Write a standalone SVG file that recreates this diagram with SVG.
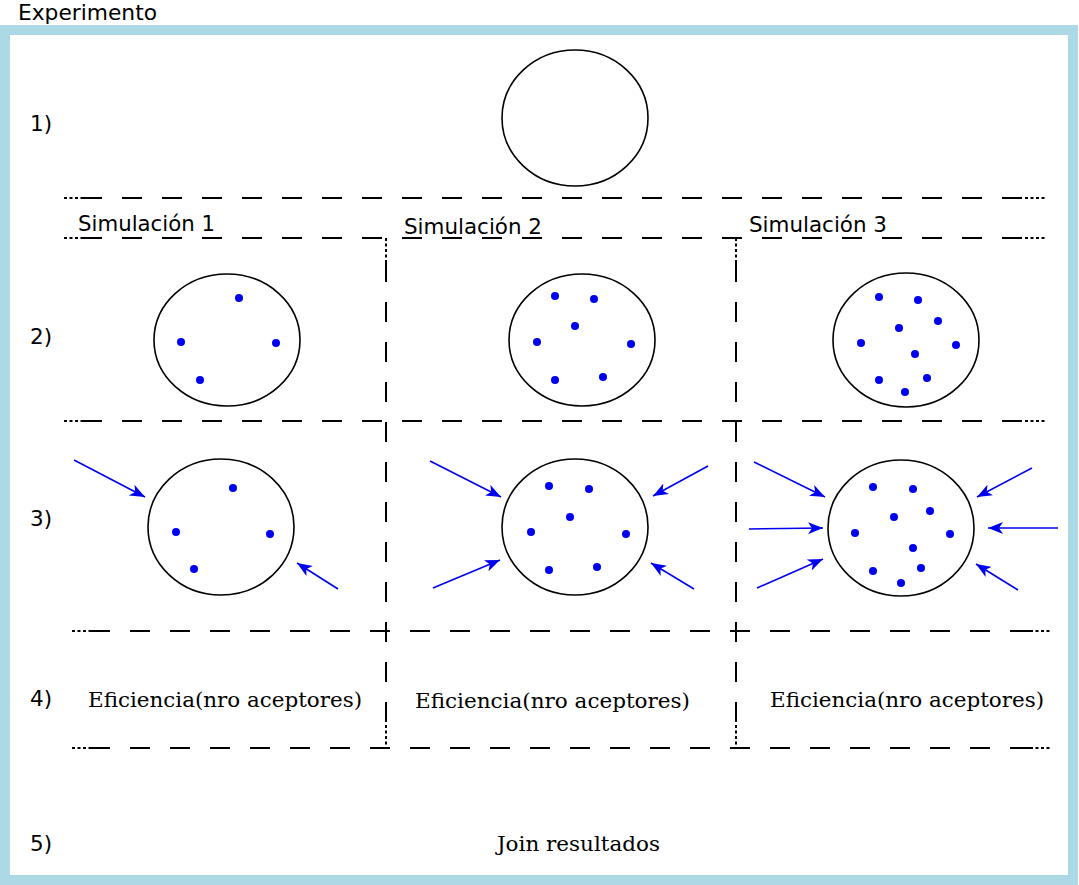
<svg xmlns="http://www.w3.org/2000/svg" width="1079" height="885" viewBox="0 0 1079 885">
<style>
.sans{font-family:"DejaVu Sans",sans-serif;font-size:21.5px;fill:#000}
.serif{font-family:"DejaVu Serif",serif;font-size:21px;fill:#000}
.c{fill:#fff;stroke:#000;stroke-width:1.6}
.d{fill:#0000f0}
.dash{stroke:#000;stroke-width:2;stroke-dasharray:20 20;fill:none}
.dot{stroke:#000;stroke-width:2;stroke-dasharray:3 2.5;fill:none}
.arr{stroke:#0000f0;stroke-width:1.6;fill:none;marker-end:url(#ah)}
</style>
<defs>
<marker id="ah" markerUnits="userSpaceOnUse" markerWidth="16" markerHeight="12" refX="15" refY="6" orient="auto">
<path d="M0,0 L15,6 L0,12 L4,6 Z" fill="#0000f0"/>
</marker>
</defs>
<rect width="1079" height="885" fill="#fff"/>
<rect id="frame" x="5" y="30" width="1068" height="850" fill="none" stroke="#add8e6" stroke-width="10"/>
<g id="title"><text class="sans" x="18" y="20" textLength="139" lengthAdjust="spacingAndGlyphs">Experimento</text></g>
<g id="step-labels">
<text class="sans" x="30" y="131">1)</text>
<text class="sans" x="30" y="344">2)</text>
<text class="sans" x="30" y="526">3)</text>
<text class="sans" x="30" y="706">4)</text>
<text class="sans" x="30" y="851">5)</text>
</g>
<g id="grid">
<line class="dot" x1="64" y1="198" x2="82" y2="198"/><line class="dash" x1="82" y1="198" x2="1025" y2="198"/><line class="dot" x1="1025" y1="198" x2="1045" y2="198"/>
<line class="dot" x1="64" y1="238" x2="82" y2="238"/><line class="dash" x1="82" y1="238" x2="1025" y2="238"/><line class="dot" x1="1025" y1="238" x2="1045" y2="238"/>
<line class="dot" x1="64" y1="421" x2="82" y2="421"/><line class="dash" x1="82" y1="421" x2="1025" y2="421"/><line class="dot" x1="1025" y1="421" x2="1045" y2="421"/>
<line class="dot" x1="72" y1="631" x2="90" y2="631"/><line class="dash" x1="90" y1="631" x2="1030" y2="631"/><line class="dot" x1="1030" y1="631" x2="1050" y2="631"/>
<line class="dot" x1="72" y1="748" x2="90" y2="748"/><line class="dash" x1="90" y1="748" x2="1030" y2="748"/><line class="dot" x1="1030" y1="748" x2="1050" y2="748"/>
<line class="dot" x1="386" y1="238" x2="386" y2="262"/><line class="dash" x1="386" y1="262" x2="386" y2="725"/><line class="dot" x1="386" y1="725" x2="386" y2="748"/>
<line class="dot" x1="736" y1="238" x2="736" y2="262"/><line class="dash" x1="736" y1="262" x2="736" y2="725"/><line class="dot" x1="736" y1="725" x2="736" y2="748"/>
</g>
<g id="sim-titles">
<text class="sans" x="78" y="231" textLength="137" lengthAdjust="spacingAndGlyphs">Simulación 1</text>
<text class="sans" x="404" y="234" textLength="138" lengthAdjust="spacingAndGlyphs">Simulación 2</text>
<text class="sans" x="749" y="232" textLength="138" lengthAdjust="spacingAndGlyphs">Simulación 3</text>
</g>
<g id="step1-circle"><ellipse class="c" cx="575" cy="118" rx="73" ry="68"/></g>
<g id="sim1-step2">
<ellipse class="c" cx="227" cy="340" rx="73" ry="66"/>
<circle class="d" cx="239" cy="298" r="4"/><circle class="d" cx="181" cy="342" r="4"/><circle class="d" cx="276" cy="343" r="4"/><circle class="d" cx="200" cy="380" r="4"/>
</g>
<g id="sim2-step2">
<ellipse class="c" cx="582" cy="340" rx="73" ry="66"/>
<circle class="d" cx="555" cy="296" r="4"/><circle class="d" cx="594" cy="299" r="4"/><circle class="d" cx="575" cy="326" r="4"/><circle class="d" cx="537" cy="342" r="4"/><circle class="d" cx="631" cy="344" r="4"/><circle class="d" cx="555" cy="380" r="4"/><circle class="d" cx="603" cy="377" r="4"/>
</g>
<g id="sim3-step2">
<ellipse class="c" cx="906" cy="340" rx="73" ry="67"/>
<circle class="d" cx="879" cy="297" r="4"/><circle class="d" cx="918" cy="300" r="4"/><circle class="d" cx="938" cy="321" r="4"/><circle class="d" cx="899" cy="328" r="4"/><circle class="d" cx="861" cy="343" r="4"/><circle class="d" cx="956" cy="345" r="4"/><circle class="d" cx="915" cy="354" r="4"/><circle class="d" cx="879" cy="380" r="4"/><circle class="d" cx="927" cy="378" r="4"/><circle class="d" cx="905" cy="392" r="4"/>
</g>
<g id="sim1-step3">
<ellipse class="c" cx="221" cy="527" rx="73" ry="68"/>
<circle class="d" cx="233" cy="488" r="4"/><circle class="d" cx="176" cy="532" r="4"/><circle class="d" cx="270" cy="534" r="4"/><circle class="d" cx="194" cy="569" r="4"/>
</g>
<g id="sim2-step3">
<ellipse class="c" cx="575" cy="527" rx="73" ry="68"/>
<circle class="d" cx="549" cy="486" r="4"/><circle class="d" cx="589" cy="489" r="4"/><circle class="d" cx="570" cy="517" r="4"/><circle class="d" cx="531" cy="532" r="4"/><circle class="d" cx="626" cy="534" r="4"/><circle class="d" cx="549" cy="570" r="4"/><circle class="d" cx="597" cy="567" r="4"/>
</g>
<g id="sim3-step3">
<ellipse class="c" cx="901" cy="528" rx="73" ry="68"/>
<circle class="d" cx="873" cy="487" r="4"/><circle class="d" cx="913" cy="489" r="4"/><circle class="d" cx="930" cy="511" r="4"/><circle class="d" cx="894" cy="517" r="4"/><circle class="d" cx="855" cy="533" r="4"/><circle class="d" cx="950" cy="534" r="4"/><circle class="d" cx="913" cy="548" r="4"/><circle class="d" cx="873" cy="571" r="4"/><circle class="d" cx="921" cy="568" r="4"/><circle class="d" cx="901" cy="583" r="4"/>
</g>
<g id="connectors">
<line class="arr" x1="74" y1="460" x2="145" y2="497"/>
<line class="arr" x1="338" y1="589" x2="297" y2="563"/>
<line class="arr" x1="430" y1="461" x2="501" y2="497"/>
<line class="arr" x1="708" y1="466" x2="653" y2="496"/>
<line class="arr" x1="433" y1="588" x2="500" y2="560"/>
<line class="arr" x1="694" y1="589" x2="651" y2="563"/>
<line class="arr" x1="754" y1="462" x2="825" y2="497"/>
<line class="arr" x1="749" y1="529" x2="823" y2="528"/>
<line class="arr" x1="757" y1="588" x2="823" y2="559"/>
<line class="arr" x1="1032" y1="468" x2="977" y2="497"/>
<line class="arr" x1="1058" y1="528" x2="988" y2="528"/>
<line class="arr" x1="1018" y1="590" x2="976" y2="564"/>
</g>
<g id="results">
<text class="serif" x="88" y="707" textLength="274" lengthAdjust="spacingAndGlyphs">Eficiencia(nro aceptores)</text>
<text class="serif" x="415" y="708" textLength="275" lengthAdjust="spacingAndGlyphs">Eficiencia(nro aceptores)</text>
<text class="serif" x="770" y="707" textLength="274" lengthAdjust="spacingAndGlyphs">Eficiencia(nro aceptores)</text>
</g>
<g id="join"><text class="serif" x="497" y="851" textLength="163" lengthAdjust="spacingAndGlyphs">Join resultados</text></g>
</svg>
